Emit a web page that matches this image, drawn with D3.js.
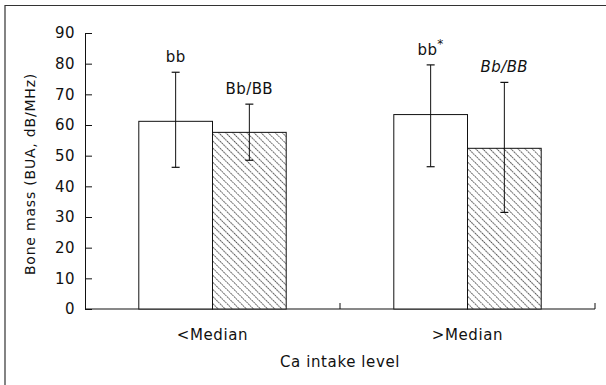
<!DOCTYPE html>
<html>
<head>
<meta charset="utf-8">
<script src="https://cdn.jsdelivr.net/npm/d3@7"></script>
<style>
  body { margin: 0; background: #fff; }
  text { font-family: "DejaVu Sans", sans-serif; fill: #111; }
</style>
</head>
<body>
<svg id="chart"></svg>
<script>
let width = 606;
let height = 385;

// data
let categories = ['<Median', '>Median'];
let groups = ['bb', 'Bb/BB'];
let means = [[61.2, 57.6], [63.4, 52.4]];
let upper = [[77.2, 66.8], [79.6, 73.9]];
let lower = [[46.2, 48.5], [46.4, 31.5]];
let barLabels = [['bb', 'Bb/BB'], ['bb', 'Bb/BB']];
let yTicks = [0, 10, 20, 30, 40, 50, 60, 70, 80, 90];

let margin = {left: 85, right: 11, top: 33, bottom: 76};

let svg = d3.select('#chart')
            .attr('width', width)
            .attr('height', height);

// hatch pattern for the Bb/BB bars
let defs = svg.append('defs');
let pat = defs.append('pattern')
    .attr('id', 'hatch')
    .attr('patternUnits', 'userSpaceOnUse')
    .attr('width', 5)
    .attr('height', 5)
    .attr('patternTransform', 'rotate(-45)');
pat.append('rect').attr('width', 5).attr('height', 5).attr('fill', '#fff');
pat.append('line')
    .attr('x1', 0).attr('y1', 0).attr('x2', 0).attr('y2', 5)
    .attr('stroke', '#111')
    .attr('stroke-width', 1.4)
    .attr('stroke-dasharray', '1.8,0.7');

// figure frame (top and left only)
svg.append('path')
    .attr('d', `M5,${height} V5.5 H${width}`)
    .attr('fill', 'none')
    .attr('stroke', '#333')
    .attr('stroke-width', 1.2);

let xScale = d3.scaleBand()
    .domain(categories)
    .range([margin.left, width - margin.right]);

let xInner = d3.scaleBand()
    .domain(groups)
    .range([0, xScale.bandwidth()])
    .paddingOuter(0.73);

let yScale = d3.scaleLinear()
    .domain([0, 90])
    .range([height - margin.bottom, margin.top]);

// y axis, ticks point inward
let yAxis = svg.append('g')
    .attr('transform', `translate(${margin.left},0)`)
    .call(d3.axisLeft(yScale).tickValues(yTicks).tickSize(-7).tickPadding(10).tickSizeOuter(0));
yAxis.select('.domain').attr('stroke', '#111');
yAxis.selectAll('.tick line').attr('stroke', '#111');
yAxis.selectAll('text')
    .style('font-size', '15px')
    .style('letter-spacing', '0.5px')
    .attr('fill', '#111');

// x axis with a tick between the categories and at the far end
let x0 = yScale(0);
svg.append('line')
    .attr('x1', margin.left).attr('x2', width - margin.right)
    .attr('y1', x0).attr('y2', x0)
    .attr('stroke', '#111');
svg.selectAll('.xtick')
    .data(categories)
    .enter()
    .append('line')
        .attr('x1', d => xScale(d) + xScale.bandwidth())
        .attr('x2', d => xScale(d) + xScale.bandwidth())
        .attr('y1', x0).attr('y2', x0 - 6)
        .attr('stroke', '#111');

svg.selectAll('.xlabel')
    .data(categories)
    .enter()
    .append('text')
        .attr('x', d => xScale(d) + xScale.bandwidth() / 2)
        .attr('y', x0 + 31)
        .attr('text-anchor', 'middle')
        .style('font-size', '15px')
        .style('letter-spacing', '0.6px')
        .text(d => d);

svg.append('text')
    .attr('x', (margin.left + width - margin.right) / 2)
    .attr('y', 367)
    .attr('text-anchor', 'middle')
    .style('font-size', '15px')
    .style('letter-spacing', '0.6px')
    .text('Ca intake level');

svg.append('text')
    .attr('transform', `translate(35,174) rotate(-90)`)
    .attr('text-anchor', 'middle')
    .style('font-size', '14px')
    .style('letter-spacing', '0.8px')
    .text('Bone mass (BUA, dB/MHz)');

// bars
let rows = [];
categories.forEach((c, i) => {
    groups.forEach((g, j) => {
        rows.push({cat: c, grp: g, mean: means[i][j], hi: upper[i][j], lo: lower[i][j],
                   label: barLabels[i][j], star: i === 1 && j === 0, italic: i === 1 && j === 1});
    });
});

let bars = svg.selectAll('.bar')
    .data(rows)
    .enter()
    .append('g')
        .classed('bar', true)
        .attr('transform', d => `translate(${xScale(d.cat) + xInner(d.grp)},0)`);

bars.append('rect')
    .attr('x', 0)
    .attr('y', d => yScale(d.mean))
    .attr('width', xInner.bandwidth())
    .attr('height', d => yScale(0) - yScale(d.mean))
    .attr('fill', d => d.grp === 'bb' ? '#fff' : 'url(#hatch)')
    .attr('stroke', '#111')
    .attr('stroke-width', 1);

let cx = xInner.bandwidth() / 2;
bars.append('line')
    .attr('x1', cx).attr('x2', cx)
    .attr('y1', d => yScale(d.hi))
    .attr('y2', d => yScale(d.lo))
    .attr('stroke', '#111');
bars.append('line')
    .attr('x1', cx - 4).attr('x2', cx + 4)
    .attr('y1', d => yScale(d.hi)).attr('y2', d => yScale(d.hi))
    .attr('stroke', '#111').attr('stroke-width', 1.2);
bars.append('line')
    .attr('x1', cx - 4).attr('x2', cx + 4)
    .attr('y1', d => yScale(d.lo)).attr('y2', d => yScale(d.lo))
    .attr('stroke', '#111').attr('stroke-width', 1.2);

let lbl = bars.append('text')
    .attr('x', cx)
    .attr('y', d => yScale(d.hi) - 10)
    .attr('text-anchor', 'middle')
    .style('font-size', '15px')
    .style('letter-spacing', '0.4px')
    .style('font-style', d => d.italic ? 'italic' : 'normal')
    .text(d => d.label);
lbl.filter(d => d.star)
    .append('tspan')
        .attr('dy', -7)
        .style('font-size', '12px')
        .text('*');
</script>
</body>
</html>
